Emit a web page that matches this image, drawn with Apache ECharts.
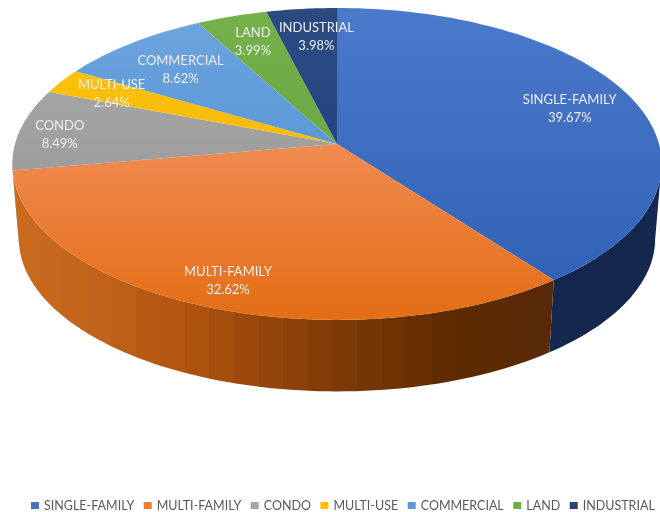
<!DOCTYPE html>
<html>
<head>
<meta charset="utf-8">
<style>html,body{margin:0;padding:0;background:#fff}#chart{width:660px;height:512px}</style>
<script src="https://cdn.jsdelivr.net/npm/echarts@6/dist/echarts.min.js"></script>
</head>
<body>
<div id="chart"></div>
<script>
// Property types and their share of the portfolio, in percent.
const categories = ['SINGLE-FAMILY', 'MULTI-FAMILY', 'CONDO', 'MULTI-USE', 'COMMERCIAL', 'LAND', 'INDUSTRIAL'];
const shares = [39.67, 32.62, 8.49, 2.64, 8.62, 3.99, 3.98];

// Fill colours: legend swatch, then the top-face gradient (far edge to near edge).
const swatchColors = ['#4472c4', '#ed7d31', '#a5a5a5', '#ffc000', '#5b9bd5', '#70ad47', '#264478'];
const topStops = [
  ['#4b79cb', '#2e5fb4'], ['#ef8a50', '#e46d14'], ['#acacac', '#8f8f8f'], ['#ffc50f', '#efb000'],
  ['#6fa5de', '#3f89cf'], ['#75b04b', '#5f9f38'], ['#2a4a80', '#1d3f88']
];
// Side wall colours running left to right across the rim.
const wallStops = {
  0: [[0, '#13274f'], [1, '#13274f']],
  1: [[0, '#cb6c20'], [0.17, '#bf6118'], [0.34, '#ad520d'], [0.5, '#8f4309'], [0.62, '#7b3906'], [0.8, '#5f2b00'], [1, '#572a0a']],
  2: [[0, '#6f6f6f'], [1, '#6f6f6f']]
};
// Where each label sits on the pie plane: fraction of the radius, and degrees off the slice's mid angle.
const labelReach = [0.78, 0.855, 0.87, 0.805, 0.73, 0.78, 0.77];
const labelShift = [1.2, -0.7, -1.5, -0.7, -1, 0, 1.9];

// Perspective view of the disc: top face centre, half axes, foreshortening, and rim offset.
const view = { cx: 337, cy: 144, a: 322, b: 153.4, k: 0.128, rimDrop: 75, rimScale: 0.98 };
const WALL_BANDS = 22;

function project(deg, reach, lower) {
  const t = deg * Math.PI / 180;
  const u = reach * Math.sin(t), v = -reach * Math.cos(t);
  const w = 1 - view.k * v;
  const s = lower ? view.rimScale : 1;
  return [view.cx + s * view.a * u / w, view.cy + (lower ? view.rimDrop : 0) + s * view.b * v / w];
}

function arc(from, to, lower) {
  const n = Math.max(2, Math.ceil(Math.abs(to - from) / 1.5));
  const pts = [];
  for (let i = 0; i <= n; i++) pts.push(project(from + (to - from) * i / n, 1, lower));
  return pts;
}

// Turns a smooth colour ramp into flat vertical facets along the rim.
function facetStops(stops) {
  const hex = c => [1, 3, 5].map(i => parseInt(c.substr(i, 2), 16));
  const sample = t => {
    let j = 0;
    while (j < stops.length - 2 && t > stops[j + 1][0]) j++;
    const f = (t - stops[j][0]) / (stops[j + 1][0] - stops[j][0] || 1);
    const a = hex(stops[j][1]), b = hex(stops[j + 1][1]);
    return 'rgb(' + a.map((x, i) => Math.round(x + (b[i] - x) * f)).join(',') + ')';
  };
  const out = [];
  for (let i = 0; i < WALL_BANDS; i++) {
    const c = sample((i + 0.5) / WALL_BANDS);
    out.push({ offset: i / WALL_BANDS, color: c }, { offset: (i + 1) / WALL_BANDS, color: c });
  }
  return out;
}

function sliceRenderer(index) {
  return function (params, api) {
    const start = api.value(0) * 3.6, end = api.value(1) * 3.6, children = [];
    // The rim is only visible between the two tangent points of the silhouette.
    const wallFrom = Math.max(start, 97.4), wallTo = Math.min(end, 262.6);
    if (wallTo > wallFrom && wallStops[index]) {
      const p0 = project(wallFrom, 1), p1 = project(wallTo, 1);
      children.push({
        type: 'polygon', z2: 1,
        shape: { points: arc(wallFrom, wallTo, false).concat(arc(wallTo, wallFrom, true)) },
        style: { fill: new echarts.graphic.LinearGradient(Math.min(p0[0], p1[0]), 0, Math.max(p0[0], p1[0]), 0,
          facetStops(wallStops[index]), true) }
      });
    }
    children.push({
      type: 'polygon', z2: 2,
      shape: { points: [project(0, 0)].concat(arc(start, end, false)) },
      style: { fill: new echarts.graphic.LinearGradient(0, 8, 0, 320, [
        { offset: index === 1 ? 0.45 : 0, color: topStops[index][0] },
        { offset: 1, color: topStops[index][1] }], true) }
    });
    const pos = project((start + end) / 2 + labelShift[index], labelReach[index]);
    children.push({
      type: 'text', z2: 50, x: pos[0], y: pos[1],
      style: {
        text: categories[index] + '\n' + shares[index].toFixed(2) + '%',
        fill: '#eeeeee', font: '13px Lato, "Open Sans", sans-serif',
        align: 'center', verticalAlign: 'middle', lineHeight: 18
      }
    });
    return { type: 'group', children: children };
  };
}

let running = 0;
const series = categories.map((name, i) => {
  const from = running;
  running += shares[i];
  return {
    type: 'custom', name: name, coordinateSystem: 'none', silent: true,
    itemStyle: { color: swatchColors[i] },
    renderItem: sliceRenderer(i),
    data: [[from, running]]
  };
});

const chart = echarts.init(document.getElementById('chart'), null, { renderer: 'canvas' });
chart.setOption({
  animation: false,
  backgroundColor: '#ffffff',
  legend: {
    data: categories, left: 31, top: 499, width: 640, padding: 0, itemWidth: 8, itemHeight: 7, itemGap: 9.5,
    icon: 'rect', selectedMode: false,
    textStyle: { color: '#595959', fontFamily: 'Lato, "Open Sans", sans-serif', fontSize: 12.5, padding: [0, 0, 0, 0] }
  },
  series: series
});
</script>
</body>
</html>
